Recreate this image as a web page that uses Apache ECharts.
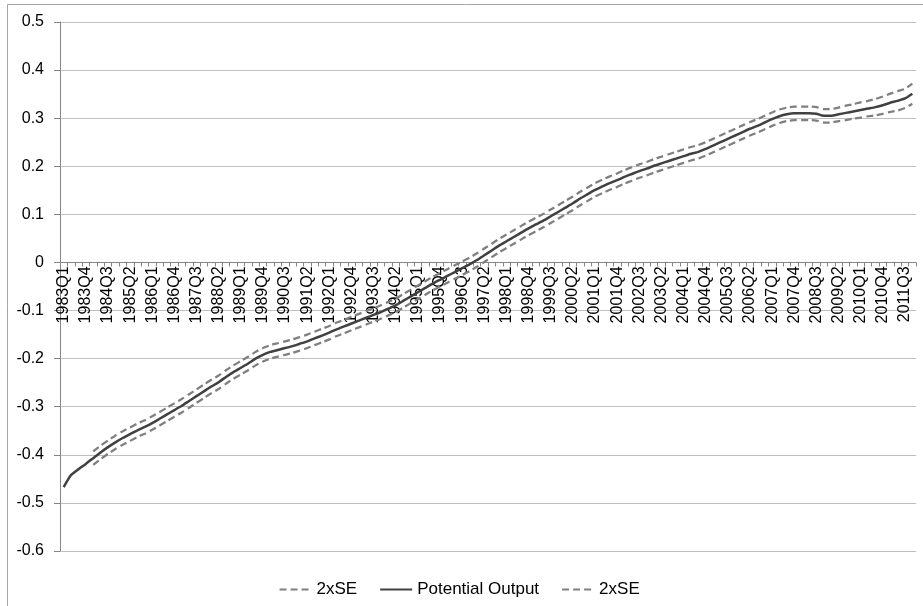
<!DOCTYPE html>
<html>
<head>
<meta charset="utf-8">
<script src="https://cdn.jsdelivr.net/npm/echarts@6/dist/echarts.min.js"></script>
<style>html,body{margin:0;padding:0;background:#fff}#c{width:923px;height:606px}</style>
</head>
<body>
<div id="c"></div>
<script>
// Categories: 1983Q1 .. 2011Q4
const years = [];
for (let y = 1983; y <= 2011; y++) years.push(y);
const quarters = ['Q1', 'Q2', 'Q3', 'Q4'];
const categories = [];
years.forEach(y => quarters.forEach(q => categories.push(y + q)));

const potentialOutput = [
 -0.467,-0.442,-0.430,-0.419,-0.407,-0.395,-0.384,-0.374,-0.365,-0.357,
 -0.349,-0.342,-0.334,-0.325,-0.316,-0.307,-0.298,-0.288,-0.278,-0.268,
 -0.258,-0.249,-0.238,-0.228,-0.219,-0.210,-0.200,-0.192,-0.186,-0.182,
 -0.178,-0.174,-0.169,-0.164,-0.158,-0.152,-0.146,-0.139,-0.133,-0.127,
 -0.121,-0.115,-0.109,-0.103,-0.096,-0.089,-0.080,-0.071,-0.062,-0.053,
 -0.044,-0.036,-0.028,-0.020,-0.012,-0.004,0.005,0.015,0.025,0.035,
 0.044,0.053,0.062,0.071,0.079,0.087,0.096,0.105,0.114,0.123,
 0.133,0.142,0.151,0.158,0.165,0.171,0.178,0.184,0.190,0.195,
 0.201,0.206,0.211,0.216,0.221,0.226,0.230,0.236,0.243,0.250,
 0.257,0.264,0.271,0.278,0.284,0.291,0.298,0.304,0.308,0.310,
 0.310,0.310,0.309,0.305,0.305,0.308,0.311,0.314,0.317,0.320,
 0.323,0.327,0.332,0.336,0.341,0.351
];

const upperSE = [
 null,null,null,null,-0.393,-0.381,-0.370,-0.360,-0.351,-0.343,
 -0.335,-0.328,-0.320,-0.311,-0.302,-0.293,-0.284,-0.274,-0.264,-0.254,
 -0.244,-0.235,-0.224,-0.214,-0.205,-0.196,-0.186,-0.178,-0.172,-0.168,
 -0.164,-0.160,-0.155,-0.150,-0.144,-0.138,-0.132,-0.125,-0.119,-0.113,
 -0.107,-0.101,-0.095,-0.089,-0.082,-0.075,-0.066,-0.057,-0.048,-0.039,
 -0.030,-0.022,-0.014,-0.006,0.002,0.010,0.019,0.029,0.039,0.049,
 0.058,0.067,0.076,0.085,0.093,0.101,0.110,0.119,0.128,0.137,
 0.147,0.156,0.165,0.172,0.179,0.185,0.192,0.198,0.204,0.209,
 0.215,0.220,0.225,0.230,0.235,0.240,0.244,0.250,0.257,0.264,
 0.271,0.278,0.285,0.292,0.298,0.305,0.312,0.318,0.322,0.324,
 0.324,0.324,0.323,0.319,0.319,0.322,0.326,0.329,0.333,0.336,
 0.340,0.345,0.351,0.356,0.361,0.372
];

const lowerSE = [
 null,null,null,null,-0.421,-0.409,-0.398,-0.388,-0.379,-0.371,
 -0.363,-0.356,-0.348,-0.339,-0.330,-0.321,-0.312,-0.302,-0.292,-0.282,
 -0.272,-0.263,-0.252,-0.242,-0.233,-0.224,-0.214,-0.206,-0.200,-0.196,
 -0.192,-0.188,-0.183,-0.178,-0.172,-0.166,-0.160,-0.153,-0.147,-0.141,
 -0.135,-0.129,-0.123,-0.117,-0.110,-0.103,-0.094,-0.085,-0.076,-0.067,
 -0.058,-0.050,-0.042,-0.034,-0.026,-0.018,-0.009,0.001,0.011,0.021,
 0.030,0.039,0.048,0.057,0.065,0.073,0.082,0.091,0.100,0.109,
 0.119,0.128,0.137,0.144,0.151,0.157,0.164,0.170,0.176,0.181,
 0.187,0.192,0.197,0.202,0.207,0.212,0.216,0.222,0.229,0.236,
 0.243,0.250,0.257,0.264,0.270,0.277,0.284,0.290,0.294,0.296,
 0.296,0.296,0.295,0.291,0.291,0.294,0.296,0.299,0.301,0.304,
 0.306,0.309,0.313,0.316,0.321,0.330
];

const FONT = 'Liberation Sans';
const Y_MIN = -0.6, Y_MAX = 0.5;
const GRID = {left: 60, right: 7, top: 22, bottom: 55};
const plotH = 606 - GRID.top - GRID.bottom;
const zeroOffset = -plotH * (0 - Y_MIN) / (Y_MAX - Y_MIN);

const chart = echarts.init(document.getElementById('c'), null, {renderer: 'canvas'});
const dashStyle = {color: '#7f7f7f', width: 2.25, type: [7, 4]};
chart.setOption({
  animation: false,
  backgroundColor: '#ffffff',
  textStyle: {fontFamily: FONT},
  graphic: [{
    type: 'rect', silent: true,
    shape: {x: 7.5, y: 4.5, width: 940, height: 640},
    style: {fill: 'none', stroke: '#a6a6a6', lineWidth: 1}
  }],
  grid: Object.assign({containLabel: false}, GRID),
  legend: {
    top: 576, left: 'center',
    itemWidth: 32, itemHeight: 14, itemGap: 22,
    itemStyle: {opacity: 0},
    textStyle: {fontFamily: FONT, fontSize: 17, color: '#000'},
    data: ['2xSE', 'Potential Output', '2xSE ']
  },
  xAxis: {
    type: 'category', data: categories, boundaryGap: true,
    position: 'bottom', offset: zeroOffset,
    axisLine: {onZero: false, lineStyle: {color: '#868686', width: 1}},
    axisTick: {show: true, interval: 0, length: 4, lineStyle: {color: '#868686'}},
    axisLabel: {interval: 2, rotate: 90, margin: 4, fontFamily: FONT, fontSize: 16, color: '#000'},
    splitLine: {show: false}
  },
  yAxis: {
    type: 'value', min: Y_MIN, max: Y_MAX, interval: 0.1,
    axisLine: {show: true, lineStyle: {color: '#868686'}},
    axisTick: {show: true, length: 6, lineStyle: {color: '#868686'}},
    axisLabel: {margin: 16, fontFamily: FONT, fontSize: 16, color: '#000',
      formatter: v => String(+v.toFixed(1))},
    splitLine: {show: true, lineStyle: {color: '#bfbfbf', width: 1}}
  },
  series: [
    {name: '2xSE', type: 'line', data: upperSE, symbol: 'none', smooth: 0.2,
     lineStyle: dashStyle, itemStyle: {color: '#7f7f7f'}},
    {name: 'Potential Output', type: 'line', data: potentialOutput, symbol: 'none', smooth: 0.2,
     lineStyle: {color: '#404040', width: 2.5}, itemStyle: {color: '#404040'}},
    {name: '2xSE ', type: 'line', data: lowerSE, symbol: 'none', smooth: 0.2,
     lineStyle: dashStyle, itemStyle: {color: '#7f7f7f'}}
  ]
});
</script>
</body>
</html>
